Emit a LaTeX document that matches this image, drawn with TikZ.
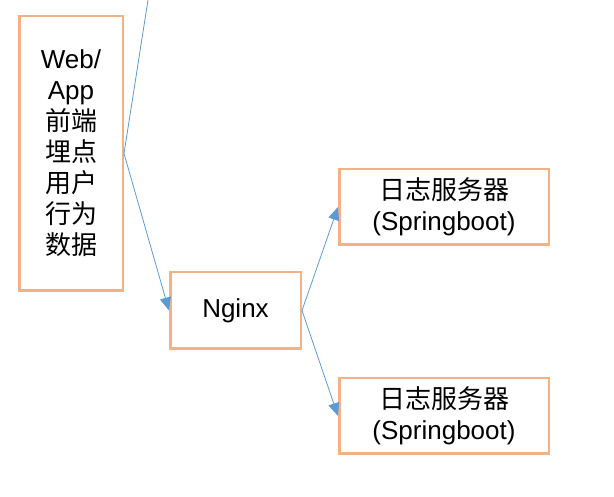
\documentclass[tikz,border=0pt]{standalone}
\usepackage{fontspec}
\setmainfont{Liberation Sans}
\newfontfamily\cjk{Noto Sans CJK SC}
\usetikzlibrary{arrows.meta, positioning}
\definecolor{boxorange}{HTML}{F4B183}
\definecolor{lineblue}{HTML}{5B9BD5}

\begin{document}
\begin{tikzpicture}[x=1pt, y=-1pt, node distance=36pt, auto]

  \useasboundingbox (0,0) rectangle (614,497);

  % Define styles for the boxes and links
  \tikzstyle{block} = [draw=boxorange, line width=2.5pt, rectangle, align=center, font=\fontsize{26}{31}\selectfont]
  \tikzstyle{server} = [block, minimum width=209.5pt, minimum height=75.5pt]
  \tikzstyle{link} = [-{Triangle[length=13pt, width=11pt]}, lineblue, line width=0.8pt]

  \node (web) [block, minimum width=103.5pt, minimum height=274.5pt] at (71,153.5) {Web/\\App\\{\cjk 前端}\\{\cjk 埋点}\\{\cjk 用户}\\{\cjk 行为}\\{\cjk 数据}};
  \node (nginx) [block, minimum width=130.5pt, minimum height=76.5pt] at (235.5,310.5) {Nginx};
  \node (log_top) [server, above right=25pt and 36pt of nginx] {{\cjk 日志服务器}\\(Springboot)};
  \node (log_bottom) [server, below right=27pt and 36pt of nginx] {{\cjk 日志服务器}\\(Springboot)};
  \coordinate (upstream) at (148,0);

  \draw[lineblue, line width=0.8pt] (upstream) -- (web.east);
  \draw[link] (web.east) -- (nginx.west);
  \draw[link] (nginx.east) -- (log_top.west);
  \draw[link] (nginx.east) -- (log_bottom.west);

\end{tikzpicture}
\end{document}
